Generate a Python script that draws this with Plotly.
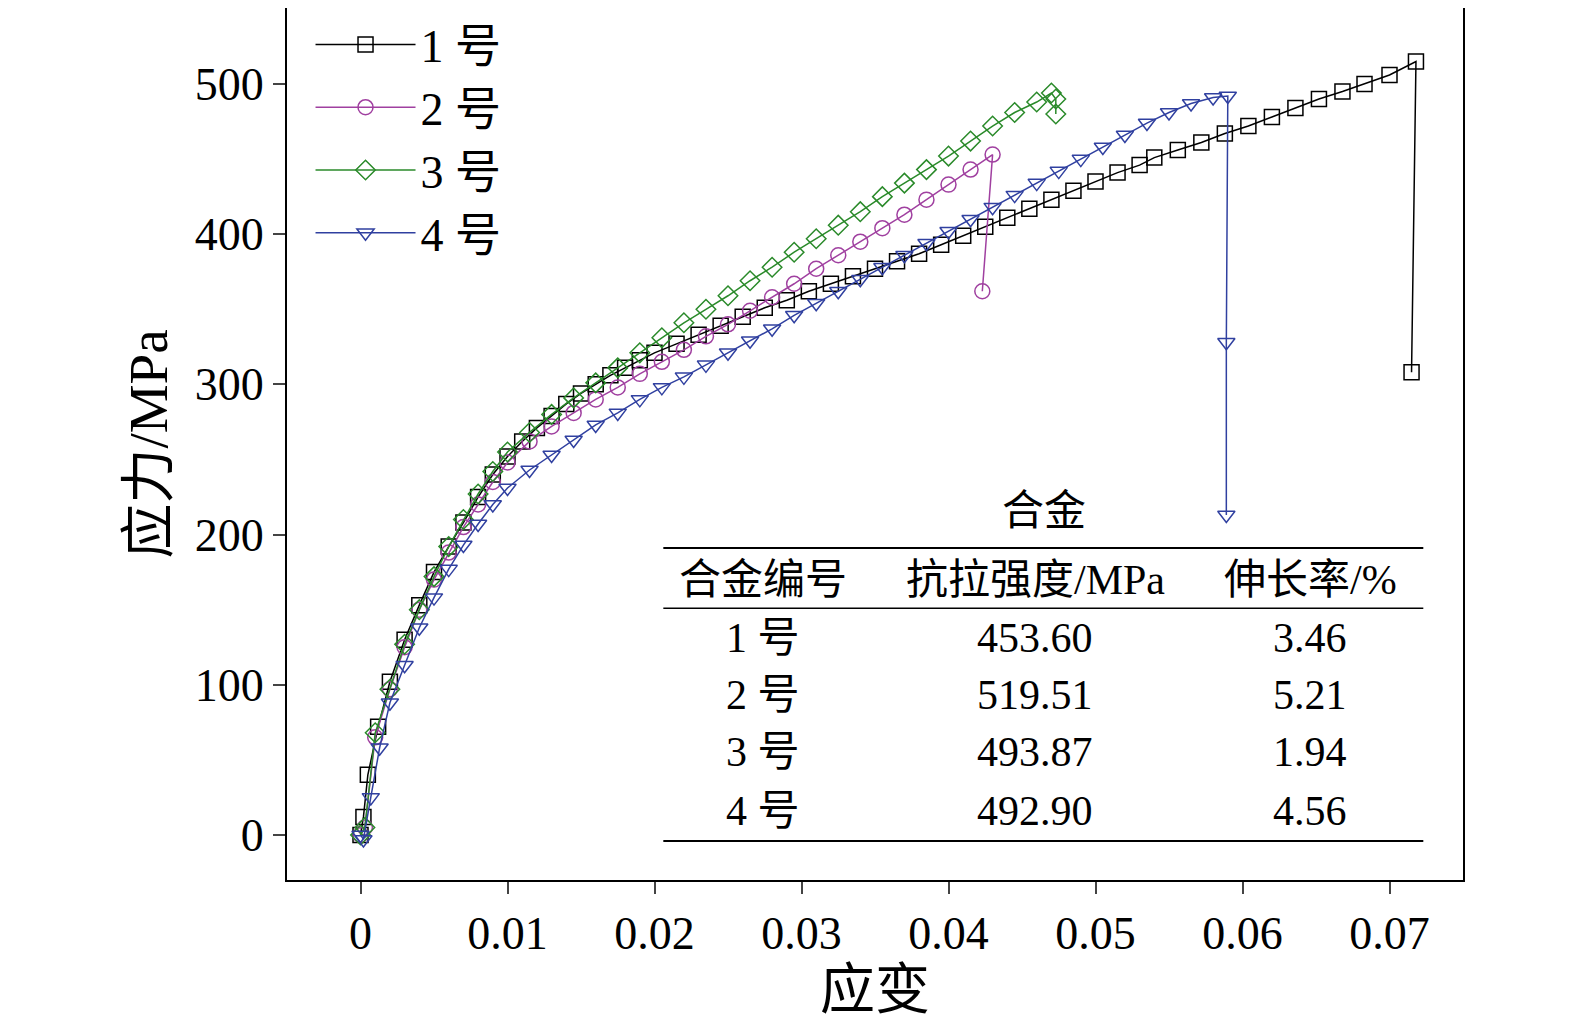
import plotly.graph_objects as go

strain1 = [0, 0.0002, 0.0005, 0.0012, 0.002, 0.003, 0.004, 0.005, 0.006, 0.007, 0.008, 0.009, 0.010,
           0.011, 0.012, 0.013, 0.014, 0.015, 0.016, 0.017, 0.018, 0.019, 0.020, 0.0215, 0.023, 0.0245,
           0.026, 0.0275, 0.029, 0.0305, 0.032, 0.0335, 0.035, 0.0365, 0.038, 0.0395, 0.041, 0.0425,
           0.044, 0.0455, 0.047, 0.0485, 0.050, 0.0515, 0.053, 0.054, 0.0556, 0.0572, 0.0588, 0.0604,
           0.062, 0.0636, 0.0652, 0.0668, 0.0683, 0.0700, 0.0718, 0.0715]
stress1 = [0, 12, 40, 72, 102, 130, 153, 175, 192, 208, 225, 240, 252,
           262, 271, 279, 287, 294, 300, 306, 311, 316, 321, 327, 333, 339,
           345, 351, 356, 362, 367, 372, 377, 382, 387, 393, 399, 405,
           411, 417, 423, 429, 435, 441, 446, 451, 456, 461, 467, 472,
           478, 484, 490, 495, 500, 506, 515, 308]

strain2 = [0, 0.0003, 0.001, 0.002, 0.003, 0.004, 0.005, 0.006, 0.007, 0.008, 0.009, 0.010,
           0.0115, 0.013, 0.0145, 0.016, 0.0175, 0.019, 0.0205, 0.022, 0.0235, 0.025, 0.0265,
           0.028, 0.0295, 0.031, 0.0325, 0.034, 0.0355, 0.037, 0.0385, 0.040, 0.0415, 0.043, 0.0423]
stress2 = [0, 5, 65, 97, 125, 150, 170, 188, 205, 220, 235, 248,
           262, 272, 281, 290, 298, 307, 315, 323, 332, 340, 349,
           358, 367, 377, 386, 395, 404, 413, 423, 433, 443, 453, 362]

strain3 = [0, 0.0003, 0.001, 0.002, 0.003, 0.004, 0.005, 0.006, 0.007, 0.008, 0.009, 0.010,
           0.0115, 0.013, 0.0145, 0.016, 0.0175, 0.019, 0.0205, 0.022, 0.0235, 0.025, 0.0265,
           0.028, 0.0295, 0.031, 0.0325, 0.034, 0.0355, 0.037, 0.0385, 0.040, 0.0415, 0.043,
           0.0445, 0.046, 0.047, 0.0473, 0.0473]
stress3 = [0, 5, 68, 97, 127, 150, 172, 192, 210, 227, 242, 255,
           268, 280, 291, 301, 311, 321, 331, 341, 350, 359, 369,
           378, 388, 397, 406, 415, 425, 434, 443, 452, 462, 472,
           481, 488, 494, 490, 480]

strain4 = [0, 0.0002, 0.0007, 0.0013, 0.002, 0.003, 0.004, 0.005, 0.006, 0.007, 0.008, 0.009, 0.010,
           0.0115, 0.013, 0.0145, 0.016, 0.0175, 0.019, 0.0205, 0.022, 0.0235, 0.025, 0.0265,
           0.028, 0.0295, 0.031, 0.0325, 0.034, 0.0355, 0.037, 0.0385, 0.040, 0.0415, 0.043,
           0.0445, 0.046, 0.0475, 0.049, 0.0505, 0.052, 0.0535, 0.055, 0.0565, 0.058, 0.059,
           0.0589, 0.0589]
stress4 = [0, -3, 25, 58, 88, 113, 138, 158, 177, 193, 207, 220, 231,
           243, 253, 263, 273, 281, 290, 298, 305, 313, 321, 329,
           337, 346, 354, 362, 370, 378, 386, 394, 402, 410, 418,
           426, 434, 442, 450, 458, 466, 474, 481, 487, 491, 492,
           328, 213]

names = ['1 号', '2 号', '3 号', '4 号']
colors = ['#000000', '#a040a0', '#2a8a2a', '#3040a0']
symbols = ['square-open', 'circle-open', 'diamond-open', 'triangle-down-open']

table_header = ['合金编号', '抗拉强度/MPa', '伸长率/%']
table_rows = [['1 号', '453.60', '3.46'],
              ['2 号', '519.51', '5.21'],
              ['3 号', '493.87', '1.94'],
              ['4 号', '492.90', '4.56']]

FONT = 'Liberation Serif, Noto Sans CJK SC'

fig = go.Figure()
for xs, ys, n, c, s in zip([strain1, strain2, strain3, strain4],
                           [stress1, stress2, stress3, stress4],
                           names, colors, symbols):
    fig.add_scatter(x=xs, y=ys, mode='lines+markers', name=n,
                    line=dict(color=c, width=1.5),
                    marker=dict(symbol=s, size=15, color=c, line=dict(width=1.5, color=c)))

# inset table
col_x = [0.0274, 0.0459, 0.0646]
row_y = [131, 93, 55, 16]
fig.add_annotation(x=0.0465, y=216, text='合金', showarrow=False, font=dict(size=42))
for cx, h in zip(col_x, table_header):
    fig.add_annotation(x=cx, y=170, text=h, showarrow=False, font=dict(size=42))
for ry, row in zip(row_y, table_rows):
    for cx, v in zip(col_x, row):
        fig.add_annotation(x=cx, y=ry, text=v, showarrow=False, font=dict(size=42))
for ly, w in [(191, 2), (151, 1.5), (-4, 2)]:
    fig.add_shape(type='line', x0=0.0206, x1=0.0723, y0=ly, y1=ly, line=dict(color='black', width=w))

fig.update_layout(
    width=1575, height=1021,
    margin=dict(l=279, r=120, t=0, b=149),
    plot_bgcolor='white', paper_bgcolor='white',
    font=dict(family=FONT, size=46, color='black'),
    showlegend=True,
    legend=dict(x=0.02, y=1.0, xanchor='left', yanchor='top', bgcolor='rgba(0,0,0,0)',
                font=dict(size=46), itemwidth=100, tracegroupgap=0),
    xaxis=dict(range=[-0.005, 0.075], tickvals=[0, 0.01, 0.02, 0.03, 0.04, 0.05, 0.06, 0.07],
               ticktext=['0', '0.01', '0.02', '0.03', '0.04', '0.05', '0.06', '0.07'],
               automargin=False,
               showgrid=False, zeroline=False, showline=True, mirror=True, linecolor='black', linewidth=2,
               ticks='outside', ticklen=12, tickwidth=2, title=dict(text='应变', standoff=10)),
    yaxis=dict(range=[-30, 550.6], tickvals=[0, 100, 200, 300, 400, 500], automargin=False,
               showgrid=False, zeroline=False, showline=True, mirror=True, linecolor='black', linewidth=2,
               ticks='outside', ticklen=12, tickwidth=2, title=dict(text='应力/MPa', standoff=10)),
)

fig.write_html('out.html')
